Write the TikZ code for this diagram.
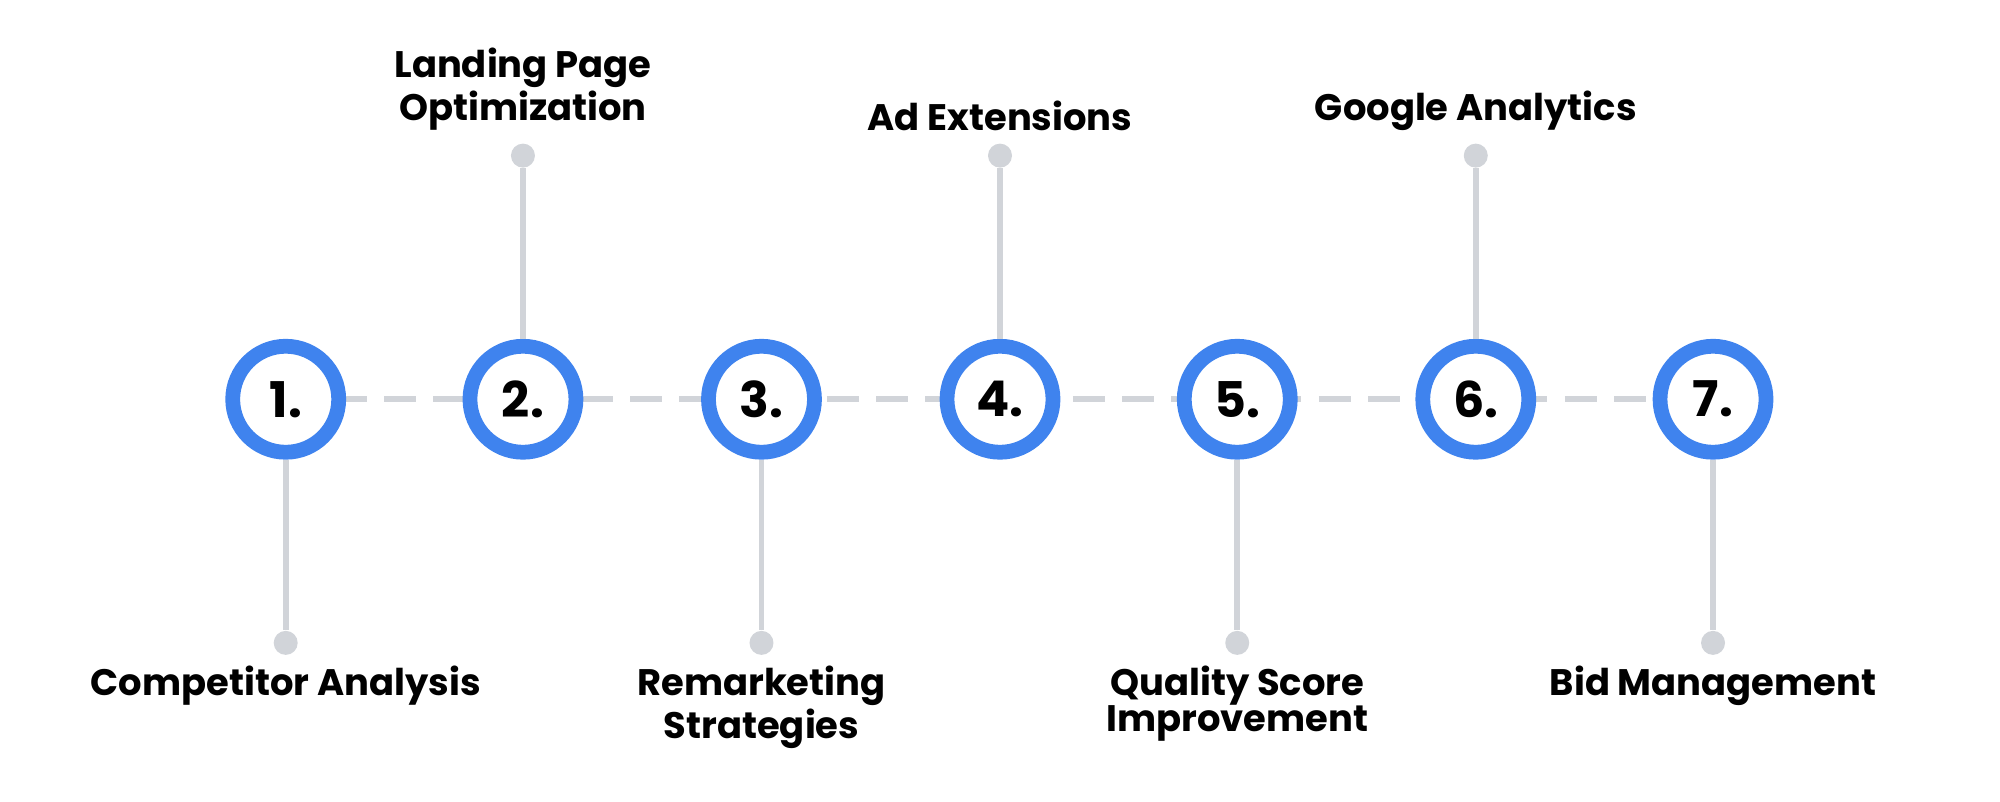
\documentclass[tikz,border=0pt]{standalone}
\usepackage{fontspec}
\setmainfont{Poppins}[BoldFont={* Bold}]
\usetikzlibrary{positioning}
\definecolor{ringblue}{HTML}{3F83EE}
\definecolor{stemgray}{HTML}{D1D4D9}
\tikzset{
stepcircle/.style={circle, draw=ringblue, line width=4.2pt, fill=white, minimum size=1.06cm, inner sep=0pt, font=\bfseries\fontsize{14}{14}\selectfont},
stem/.style={draw=stemgray, line width=1.6pt},
enddot/.style={circle, fill=stemgray, minimum size=0.24cm, inner sep=0pt},
steplabel/.style={align=center, font=\bfseries\fontsize{10.5}{10.5}\selectfont},
}

\begin{document}
\begin{tikzpicture}[x=0.01276cm,y=-0.01276cm]
        \useasboundingbox (0,0) rectangle (1568,628);
        \draw[stem, dashed, dash pattern=on 9pt off 5pt] (224,313) -- (1343,313);

        \foreach \n/\x in {1/224,2/410,3/597,4/784,5/970,6/1157,7/1343}
            \node[stepcircle] (s\n) at (\x,313) {\n.};

        % upper stems
        \foreach \n/\x in {2/410,4/784,6/1157}{
            \node[enddot] (d\n) at (\x,122) {};
            \draw[stem] (s\n) -- (d\n);
        }
        % lower stems
        \foreach \n/\x in {1/224,3/597,5/970,7/1343}{
            \node[enddot] (d\n) at (\x,504) {};
            \draw[stem] (s\n) -- (d\n);
        }

        \node[steplabel, anchor=south] (l2) at (410,112) {Landing Page\\Optimization};
        \node[steplabel, anchor=south] (l4) at (784,112) {Ad Extensions};
        \node[steplabel, anchor=south] (l6) at (1157,112) {Google Analytics};
        \node[steplabel, anchor=north] (l1) at (224,512) {Competitor Analysis};
        \node[steplabel, anchor=north] (l3) at (597,512) {Remarketing\\Strategies};
        \node[steplabel, anchor=north] (l5) at (970,512) {Quality Score\\Improvement};
        \node[steplabel, anchor=north] (l7) at (1343,512) {Bid Management};
    \end{tikzpicture}
\end{document}
